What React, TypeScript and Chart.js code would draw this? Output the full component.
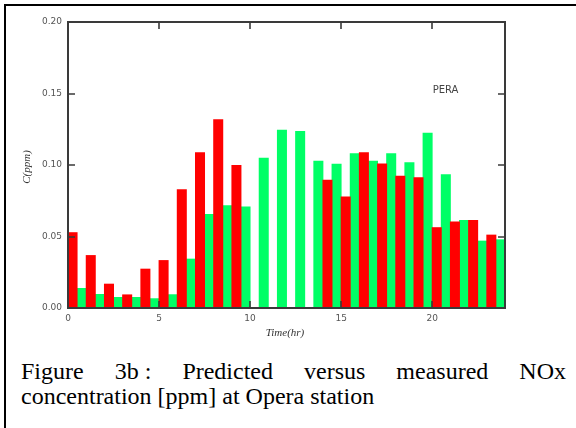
import React, { useEffect, useRef } from "react";
import { Chart, registerables } from "chart.js";

Chart.register(...registerables);

// ---- data ----
const hours = [
  "0", "1", "2", "3", "4", "5", "6", "7", "8", "9", "10", "11",
  "12", "13", "14", "15", "16", "17", "18", "19", "20", "21", "22", "23",
];
const redSeries: (number | null)[] = [
  0.053, 0.037, 0.017, 0.0095, 0.0275, 0.0335, 0.083, 0.109, 0.132, 0.1, null, null,
  null, null, 0.0897, 0.078, 0.109, 0.101, 0.0925, 0.0915, 0.0565, 0.0605, 0.0615, 0.0513,
];
const greenSeries: number[] = [
  0.014, 0.0098, 0.0077, 0.0077, 0.0068, 0.0096, 0.0345, 0.0657, 0.0718, 0.0709, 0.1051, 0.1247,
  0.1238, 0.103, 0.1009, 0.1082, 0.103, 0.1082, 0.1019, 0.1226, 0.0935, 0.0615, 0.0471, 0.048,
];
const xTickValues = [0, 5, 10, 15, 20];
const yTickValues = [0, 0.05, 0.1, 0.15, 0.2];
const xMin = 0;
const xMax = 24;
const yMin = 0;
const yMax = 0.2;
const stationLabel = "PERA";
const xTitle = "Time(hr)";
const yTitle = "C(ppm)";
const captionStart = "Figure";
const captionLabel = "3b :";
const captionRest = "Predicted versus measured NOx concentration [ppm] at Opera station";

const RED = "#ff0000";
const GREEN = "#00ff66";

const framePlugin = {
  id: "frameTicks",
  afterDatasetsDraw(chart: any) {
    const { ctx, chartArea } = chart;
    const { left, right, top, bottom } = chartArea;
    const xs = chart.scales.x;
    const ys = chart.scales.y;
    ctx.save();
    ctx.strokeStyle = "#3a3a3a";
    ctx.lineWidth = 2;
    ctx.strokeRect(left, top, right - left, bottom - top);
    ctx.lineWidth = 1.6;
    ctx.beginPath();
    const tl = 7;
    for (const v of xTickValues) {
      if (v <= xMin || v >= xMax) continue;
      const px = Math.round(xs.getPixelForValue(v));
      ctx.moveTo(px, bottom);
      ctx.lineTo(px, bottom - tl);
      ctx.moveTo(px, top);
      ctx.lineTo(px, top + tl);
    }
    for (const v of yTickValues) {
      if (v <= yMin || v >= yMax) continue;
      const py = Math.round(ys.getPixelForValue(v));
      ctx.moveTo(left, py);
      ctx.lineTo(left + tl, py);
      ctx.moveTo(right, py);
      ctx.lineTo(right - tl, py);
    }
    ctx.stroke();

    // station label
    ctx.fillStyle = "#444";
    ctx.font = '10px "DejaVu Sans"';
    ctx.textAlign = "center";
    ctx.textBaseline = "middle";
    ctx.fillText(stationLabel, 445.5, 90.5);

    // axis titles
    ctx.fillStyle = "#333";
    ctx.font = 'italic 11px "Liberation Serif"';
    ctx.fillText(xTitle, 285, 333);
    ctx.translate(27, 167);
    ctx.rotate(-Math.PI / 2);
    ctx.fillText(yTitle, 0, 0);
    ctx.restore();
  },
};

export default function App() {
  const canvasRef = useRef<HTMLCanvasElement | null>(null);

  useEffect(() => {
    if (!canvasRef.current) return;
    const tickFont = { family: '"DejaVu Sans"', size: 9 };
    const chart = new Chart(canvasRef.current, {
      type: "bar",
      data: {
        labels: hours,
        datasets: [
          {
            label: "red",
            data: redSeries,
            backgroundColor: RED,
            borderWidth: 0,
            xAxisID: "xc",
            yAxisID: "y",
            barPercentage: 1.1,
            categoryPercentage: 1.0,
          },
          {
            label: "green",
            data: greenSeries,
            backgroundColor: GREEN,
            borderWidth: 0,
            xAxisID: "xc",
            yAxisID: "y",
            barPercentage: 1.1,
            categoryPercentage: 1.0,
          },
        ],
      },
      options: {
        animation: false,
        responsive: false,
        devicePixelRatio: 1,
        layout: { padding: { left: 0, top: 22, right: 71, bottom: 0 } },
        plugins: {
          legend: { display: false },
          tooltip: { enabled: false },
        },
        scales: {
          xc: {
            type: "category",
            axis: "x",
            display: false,
            offset: true,
          },
          x: {
            type: "linear",
            position: "bottom",
            min: xMin,
            max: xMax,
            offset: false,
            grid: { display: false, drawTicks: false, offset: false },
            border: { display: false },
            afterBuildTicks: (s: any) => {
              s.ticks = xTickValues.map((v) => ({ value: v }));
            },
            afterFit: (s: any) => {
              s.height = 37;
            },
            ticks: {
              color: "#555",
              font: tickFont,
              padding: 5,
              maxRotation: 0,
              autoSkip: false,
              callback: (v: any) => String(v),
            },
          },
          y: {
            type: "linear",
            position: "left",
            min: yMin,
            max: yMax,
            grid: { display: false, drawTicks: false },
            border: { display: false },
            afterBuildTicks: (s: any) => {
              s.ticks = yTickValues.map((v) => ({ value: v }));
            },
            afterFit: (s: any) => {
              s.width = 68;
            },
            ticks: {
              color: "#555",
              font: tickFont,
              padding: 6,
              autoSkip: false,
              callback: (v: any) => Number(v).toFixed(2),
            },
          },
        },
      },
      plugins: [framePlugin],
    });
    return () => chart.destroy();
  }, []);

  return (
    <div
      style={{
        position: "absolute",
        left: 0,
        top: 0,
        width: 576,
        height: 428,
        overflow: "hidden",
        background: "#fff",
      }}
    >
      <div
        style={{
          position: "absolute",
          left: 4,
          top: 4,
          width: 700,
          height: 600,
          borderTop: "2px solid #000",
          borderLeft: "2px solid #000",
        }}
      />
      <canvas
        ref={canvasRef}
        width={576}
        height={345}
        style={{ position: "absolute", left: 0, top: 0, width: 576, height: 345 }}
      />
      <div
        style={{
          position: "absolute",
          left: 21,
          top: 359,
          width: 545,
          fontFamily: '"Liberation Serif", "Times New Roman", serif',
          fontSize: 24,
          lineHeight: "25px",
          textAlign: "justify",
          color: "#000",
        }}
      >
        {captionStart}{" "}
        <span style={{ display: "inline-block", whiteSpace: "nowrap" }}>{captionLabel}</span>{" "}
        {captionRest}
      </div>
    </div>
  );
}
